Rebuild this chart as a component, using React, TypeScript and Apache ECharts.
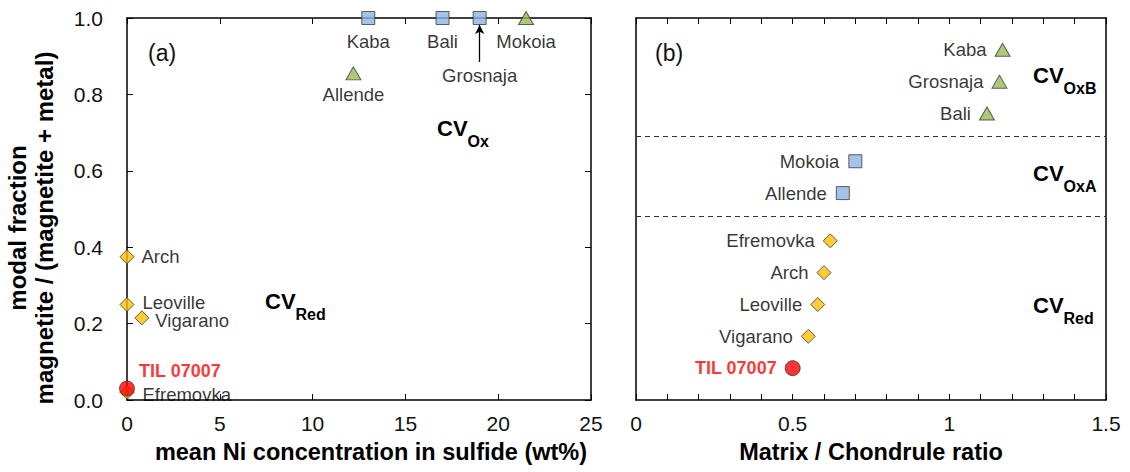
import React, { useEffect, useRef } from "react";
import * as echarts from "echarts";

// ---------- Panel (a): mean Ni in sulfide vs modal fraction ----------
const aSquareNames = ["Kaba", "Bali", "Grosnaja"];
const aSquareNi = [13, 17, 19];
const aSquareFrac = [1.0, 1.0, 1.0];

const aTriangleNames = ["Mokoia", "Allende"];
const aTriangleNi = [21.5, 12.2];
const aTriangleFrac = [1.0, 0.855];

const aDiamondNames = ["Arch", "Leoville", "Vigarano", "Efremovka"];
const aDiamondNi = [0, 0, 0.8, 0];
const aDiamondFrac = [0.375, 0.25, 0.215, 0.02];

const aTilName = "TIL 07007";
const aTilNi = 0;
const aTilFrac = 0.03;

const aXTicks = { min: 0, max: 25, interval: 5 };
const aYTicks = { min: 0, max: 1, interval: 0.2 };

// ---------- Panel (b): matrix / chondrule ratio (rows ordered by group) ----------
const bTriangleNames = ["Kaba", "Grosnaja", "Bali"];
const bTriangleRatio = [1.17, 1.16, 1.12];
const bTriangleRow = [11, 10, 9];

const bSquareNames = ["Mokoia", "Allende"];
const bSquareRatio = [0.7, 0.66];
const bSquareRow = [7.5, 6.5];

const bDiamondNames = ["Efremovka", "Arch", "Leoville", "Vigarano"];
const bDiamondRatio = [0.62, 0.6, 0.58, 0.55];
const bDiamondRow = [5, 4, 3, 2];

const bTilName = "TIL 07007";
const bTilRatio = 0.5;
const bTilRow = 1;

const bGroupBoundaries = [8.27, 5.76];
const bXTicks = { min: 0, max: 1.5, interval: 0.1 };
const bRows = { min: 0, max: 12 };

// ---------- styles ----------
const FONT = "'Liberation Sans', Arial, Helvetica, sans-serif";
const BLUE = "#8DB4E2";
const GREEN = "#9BBB59";
const GOLD = "#FFC000";
const RED = "#FF0000";
const EDGE = "#3a3a3a";
const INK = "#000";

const labelStyle = { fontFamily: FONT, fontSize: 18.5, color: INK };

// label placement for panel (a) points (by name)
const aLabelPlace: Record<string, any> = {
  Kaba: { position: "bottom", distance: 7 },
  Bali: { position: "bottom", distance: 7 },
  Grosnaja: { position: "bottom", distance: 41 },
  Mokoia: { position: "bottom", distance: 7 },
  Allende: { position: "bottom", distance: 5 },
  Arch: { position: "right", distance: 7 },
  Leoville: { position: "right", distance: 8, offset: [0, -2] },
  Vigarano: { position: "right", distance: 6, offset: [0, 3] },
  Efremovka: { position: "right", distance: 8, offset: [0, 2] },
};

function items(names: string[], xs: number[], ys: number[], place?: Record<string, any>) {
  return names.map((n, i) => ({
    name: n,
    value: [xs[i], ys[i]],
    label: place ? { ...(place[n] || {}) } : undefined,
  }));
}

function cvText(sub: string) {
  return {
    text: `{a|CV}{b|${sub}}`,
    rich: {
      a: { fontFamily: FONT, fontSize: 22, fontWeight: "bold", color: INK, lineHeight: 32, verticalAlign: "top" },
      b: { fontFamily: FONT, fontSize: 16, fontWeight: "bold", color: INK, lineHeight: 16, verticalAlign: "bottom" },
    },
  };
}

const axisLine = { show: true, onZero: false, lineStyle: { color: "#000", width: 1.5 } };
const tickIn = { show: true, inside: true, length: 6, lineStyle: { color: "#000", width: 1 } };
const tickLabel = { fontFamily: FONT, fontSize: 21, color: "#111" };
const nameStyle = { fontFamily: FONT, fontSize: 23.5, fontWeight: "bold", color: INK };

const option: any = {
  animation: false,
  backgroundColor: "#fff",
  grid: [
    { left: 127, top: 18, width: 464, height: 382 },
    { left: 636, top: 18, width: 470, height: 382 },
  ],
  xAxis: [
    {
      gridIndex: 0, type: "value", position: "bottom", ...aXTicks,
      axisLine, axisTick: tickIn, splitLine: { show: false },
      axisLabel: { ...tickLabel, margin: 13 },
      name: "mean Ni concentration in sulfide (wt%)", nameLocation: "middle", nameGap: 40,
      nameTextStyle: { ...nameStyle, padding: [0, 0, 0, 24] },
    },
    {
      gridIndex: 0, type: "value", position: "top", ...aXTicks,
      axisLine, axisTick: tickIn, splitLine: { show: false }, axisLabel: { show: false },
    },
    {
      gridIndex: 1, type: "value", position: "bottom", ...bXTicks,
      axisLine, axisTick: tickIn, splitLine: { show: false },
      axisLabel: {
        ...tickLabel, margin: 13, showMinLabel: true, showMaxLabel: true,
        formatter: (v: number) =>
          Math.abs(v * 2 - Math.round(v * 2)) < 1e-6 ? String(+v.toFixed(1)) : "",
      },
      name: "Matrix / Chondrule ratio", nameLocation: "middle", nameGap: 40,
      nameTextStyle: nameStyle,
    },
    {
      gridIndex: 1, type: "value", position: "top", ...bXTicks,
      axisLine, axisTick: tickIn, splitLine: { show: false }, axisLabel: { show: false },
    },
  ],
  yAxis: [
    {
      gridIndex: 0, type: "value", position: "left", ...aYTicks,
      axisLine, axisTick: tickIn, splitLine: { show: false },
      axisLabel: { ...tickLabel, margin: 24, formatter: (v: number) => v.toFixed(1) },
    },
    {
      gridIndex: 0, type: "value", position: "right", ...aYTicks,
      axisLine, axisTick: tickIn, splitLine: { show: false }, axisLabel: { show: false },
    },
    {
      gridIndex: 1, type: "value", position: "left", ...bRows,
      axisLine, axisTick: { show: false }, splitLine: { show: false }, axisLabel: { show: false },
    },
    {
      gridIndex: 1, type: "value", position: "right", ...bRows,
      axisLine, axisTick: { show: false }, splitLine: { show: false }, axisLabel: { show: false },
    },
  ],
  series: [
    // ---- panel (a)
    {
      type: "scatter", xAxisIndex: 0, yAxisIndex: 0, clip: false,
      symbol: "rect", symbolSize: 13,
      itemStyle: { color: BLUE, borderColor: EDGE, borderWidth: 1 },
      label: { show: true, formatter: "{b}", ...labelStyle },
      data: items(aSquareNames, aSquareNi, aSquareFrac, aLabelPlace),
      markLine: {
        silent: true, symbol: ["none", "arrow"], symbolSize: [7, 9],
        label: { show: false },
        lineStyle: { color: "#000", width: 1.3, type: "solid" },
        data: [[{ coord: [19, 0.885] }, { coord: [19, 0.982] }]],
      },
    },
    {
      type: "scatter", xAxisIndex: 0, yAxisIndex: 0, clip: false,
      symbol: "triangle", symbolSize: [15, 13],
      itemStyle: { color: GREEN, borderColor: EDGE, borderWidth: 1 },
      label: { show: true, formatter: "{b}", ...labelStyle },
      data: items(aTriangleNames, aTriangleNi, aTriangleFrac, aLabelPlace),
    },
    {
      type: "scatter", xAxisIndex: 0, yAxisIndex: 0, clip: false,
      symbol: "diamond", symbolSize: 14,
      itemStyle: { color: GOLD, borderColor: EDGE, borderWidth: 1 },
      label: { show: true, formatter: "{b}", ...labelStyle },
      data: items(aDiamondNames, aDiamondNi, aDiamondFrac, aLabelPlace),
    },
    {
      type: "scatter", xAxisIndex: 0, yAxisIndex: 0, clip: false,
      symbol: "circle", symbolSize: 15,
      itemStyle: { color: RED, borderColor: EDGE, borderWidth: 1 },
      label: {
        show: true, formatter: "{b}", position: "right", distance: 4, offset: [0, -18],
        fontFamily: FONT, fontSize: 18, fontWeight: "bold", color: RED,
      },
      data: [{ name: aTilName, value: [aTilNi, aTilFrac] }],
    },
    // ---- panel (b)
    {
      type: "scatter", xAxisIndex: 2, yAxisIndex: 2, clip: false,
      symbol: "triangle", symbolSize: [15, 13],
      itemStyle: { color: GREEN, borderColor: EDGE, borderWidth: 1 },
      label: { show: true, formatter: "{b}", position: "left", distance: 8, ...labelStyle },
      data: items(bTriangleNames, bTriangleRatio, bTriangleRow),
      markLine: {
        silent: true, symbol: "none", label: { show: false },
        lineStyle: { color: "#333", width: 1.2, type: [5, 4] },
        data: bGroupBoundaries.map((v) => ({ yAxis: v })),
      },
    },
    {
      type: "scatter", xAxisIndex: 2, yAxisIndex: 2, clip: false,
      symbol: "rect", symbolSize: 13,
      itemStyle: { color: BLUE, borderColor: EDGE, borderWidth: 1 },
      label: { show: true, formatter: "{b}", position: "left", distance: 9, ...labelStyle },
      data: items(bSquareNames, bSquareRatio, bSquareRow),
    },
    {
      type: "scatter", xAxisIndex: 2, yAxisIndex: 2, clip: false,
      symbol: "diamond", symbolSize: 14,
      itemStyle: { color: GOLD, borderColor: EDGE, borderWidth: 1 },
      label: { show: true, formatter: "{b}", position: "left", distance: 8, ...labelStyle },
      data: items(bDiamondNames, bDiamondRatio, bDiamondRow),
    },
    {
      type: "scatter", xAxisIndex: 2, yAxisIndex: 2, clip: false,
      symbol: "circle", symbolSize: 15,
      itemStyle: { color: RED, borderColor: EDGE, borderWidth: 1 },
      label: {
        show: true, formatter: "{b}", position: "left", distance: 8,
        fontFamily: FONT, fontSize: 18, fontWeight: "bold", color: RED,
      },
      data: [{ name: bTilName, value: [bTilRatio, bTilRow] }],
    },
  ],
  graphic: [
    {
      type: "text", x: 31, y: 228, rotation: Math.PI / 2,
      style: {
        text: "modal fraction\nmagnetite / (magnetite + metal)",
        fontFamily: FONT, fontSize: 24, fontWeight: "bold", fill: INK,
        align: "center", verticalAlign: "middle", lineHeight: 27,
      },
    },
    { type: "text", x: 148, y: 53, style: { text: "(a)", fontFamily: FONT, fontSize: 23, fill: "#111", verticalAlign: "middle" } },
    { type: "text", x: 655, y: 53, style: { text: "(b)", fontFamily: FONT, fontSize: 23, fill: "#111", verticalAlign: "middle" } },
    { type: "text", x: 437, y: 117, style: { ...cvText("Ox") } },
    { type: "text", x: 265, y: 290, style: { ...cvText("Red") } },
    { type: "text", x: 1033, y: 64, style: { ...cvText("OxB") } },
    { type: "text", x: 1033, y: 162, style: { ...cvText("OxA") } },
    { type: "text", x: 1033, y: 294, style: { ...cvText("Red") } },
  ],
};

export default function App() {
  const ref = useRef<HTMLDivElement>(null);
  useEffect(() => {
    document.body.style.margin = "0";
    if (!ref.current) return;
    const chart = echarts.init(ref.current, null, { renderer: "svg" });
    chart.setOption(option);
    return () => chart.dispose();
  }, []);
  return <div ref={ref} style={{ width: 1130, height: 472 }} />;
}
